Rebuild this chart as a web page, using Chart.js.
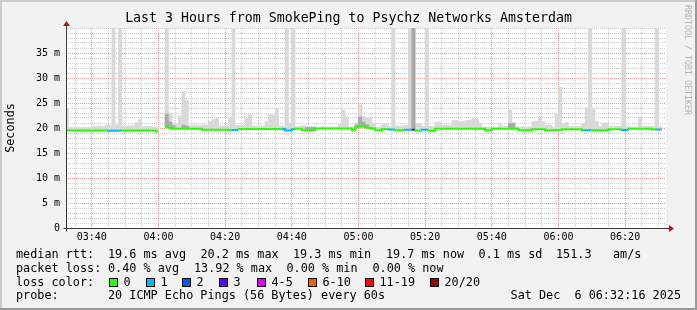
<!DOCTYPE html>
<html>
<head>
<meta charset="utf-8">
<style>
  html, body { margin: 0; padding: 0; background: #f2f2f2; }
  canvas { display: block; }
</style>
<script src="https://cdn.jsdelivr.net/npm/chart.js@4.4.1/dist/chart.umd.min.js"></script>
</head>
<body>
<canvas id="smokeChart" width="697" height="310"></canvas>
<script>
// one column per minute (20 pings each), first column starts 03:32
const firstColumn = '03:32';
const windowStart = '03:32:16';
const windowEnd = '06:32:16';
const timeLabels = ['03:40', '04:00', '04:20', '04:40', '05:00', '05:20', '05:40', '06:00', '06:20'];
const yTickLabels = ['0', '5 m', '10 m', '15 m', '20 m', '25 m', '30 m', '35 m'];
const _ = null;

// median rtt in ms
const median = [
  19.5, 19.5, 19.5, 19.5, 19.5, 19.5, 19.5, 19.5, 19.5, 19.5,
  19.5, 19.5, 19.5, 19.45, 19.45, 19.45, 19.45, 19.5, 19.5, 19.5,
  19.5, 19.5, 19.5, 19.5, 19.5, 19.5, 19.5, 19.3, _, _,
  20.2, 20.0, 19.85, 19.85, 19.85, 19.85, 19.85, 19.85, 19.85, 19.85,
  19.85, 19.65, 19.65, 19.65, 19.65, 19.65, 19.65, 19.65, 19.65, 19.6,
  19.6, 19.6, 19.8, 19.8, 19.8, 19.8, 19.8, 19.8, 19.8, 19.8,
  19.8, 19.8, 19.8, 19.8, 19.8, 19.8, 19.5, 19.5, 19.75, 19.85,
  19.85, 19.55, 19.55, 19.55, 19.55, 19.9, 19.9, 19.9, 19.9, 19.9,
  19.9, 19.9, 19.9, 19.9, 19.9, 19.9, 19.55, 20.1, 20.3, 20.3,
  20.1, 20.0, 19.9, 19.55, 19.55, 19.8, 19.8, 19.7, 19.7, 19.55,
  19.55, 19.55, 19.65, 19.65, 19.65, 19.45, 19.45, 19.65, 19.65, 19.45,
  19.45, 19.85, 19.85, 19.85, 19.85, 19.85, 19.85, 19.85, 19.85, 19.85,
  19.85, 19.85, 19.85, 19.85, 19.85, 19.85, 19.55, 19.55, 19.85, 19.85,
  19.85, 19.85, 19.85, 19.85, 19.85, 19.85, 19.55, 19.55, 19.55, 19.55,
  19.75, 19.75, 19.75, 19.75, 19.55, 19.55, 19.55, 19.55, 19.55, 19.75,
  19.75, 19.75, 19.75, 19.75, 19.75, 19.6, 19.55, 19.55, 19.55, 19.55,
  19.55, 19.55, 19.55, 19.75, 19.75, 19.75, 19.75, 19.6, 19.6, 19.85,
  19.85, 19.85, 19.85, 19.85, 19.85, 19.85, 19.7, 19.7, 19.7
];

// lost pings per column
const loss = [
  0, 0, 0, 0, 0, 0, 0, 0, 0, 0,
  0, 0, 0, 1, 1, 1, 1, 0, 0, 0,
  0, 0, 0, 0, 0, 0, 0, 0, 0, 0,
  0, 0, 0, 0, 0, 0, 0, 0, 0, 0,
  0, 0, 0, 0, 0, 0, 0, 0, 0, 0,
  1, 1, 0, 0, 0, 0, 0, 0, 0, 0,
  0, 0, 0, 0, 0, 1, 1, 1, 1, 0,
  0, 0, 0, 0, 0, 0, 0, 0, 0, 0,
  0, 0, 0, 0, 0, 0, 0, 0, 0, 0,
  0, 0, 0, 0, 0, 0, 0, 1, 1, 0,
  0, 0, 1, 1, 3, 0, 0, 1, 1, 0,
  0, 0, 0, 0, 0, 0, 0, 0, 0, 0,
  0, 0, 0, 0, 0, 0, 0, 0, 0, 0,
  0, 0, 0, 0, 0, 0, 0, 0, 0, 0,
  0, 0, 0, 0, 0, 0, 0, 0, 0, 0,
  0, 0, 0, 0, 0, 0, 1, 1, 0, 0,
  0, 0, 0, 0, 0, 0, 0, 1, 1, 0,
  0, 0, 0, 0, 0, 0, 0, 1, 1
];

// slowest ping of each column (outer smoke), ms
const smokeMax = [
  24.0, 20.1, 20.1, 20.1, 20.1, 20.1, 20.1, 20.1, 20.3, 20.3,
  20.3, 20.3, 20.5, 20.5, 45, 20.6, 45, 20.4, 20.4, 20.4,
  20.5, 21.1, 21.7, 20.3, 20.3, 20.3, 20.3, 20.1, _, _,
  45, 23.0, 21.0, 20.8, 22.4, 27.3, 25.5, 20.5, 20.5, 20.5,
  20.5, 20.6, 20.6, 21.3, 21.7, 21.9, 20.4, 20.4, 20.4, 22.1,
  45, 20.5, 20.5, 20.5, 21.9, 22.7, 20.4, 20.4, 20.4, 20.4,
  21.3, 22.7, 22.6, 23.8, 20.4, 20.4, 45, 21.0, 45, 20.3,
  20.3, 20.5, 20.3, 20.3, 20.3, 20.2, 20.2, 20.2, 20.2, 20.2,
  20.2, 20.2, 20.8, 23.6, 22.3, 20.2, 20.2, 21.0, 24.6, 22.3,
  22.1, 21.9, 20.8, 20.2, 20.2, 20.8, 20.8, 20.3, 45, 20.4,
  20.4, 20.4, 20.5, 45, 45, 20.8, 20.8, 20.3, 45, 20.3,
  20.3, 21.2, 21.2, 20.6, 20.6, 20.6, 21.5, 21.5, 21.3, 21.3,
  21.5, 21.5, 21.9, 21.9, 21.0, 20.2, 20.2, 20.2, 20.2, 20.2,
  20.7, 20.3, 20.3, 23.6, 21.1, 20.2, 20.2, 20.2, 20.2, 20.2,
  21.3, 21.4, 22.4, 21.3, 20.6, 20.6, 20.2, 22.8, 28.2, 20.8,
  21.1, 20.3, 20.3, 20.3, 20.3, 21.0, 24.1, 45, 23.7, 21.3,
  20.3, 21.0, 21.0, 20.3, 20.3, 20.3, 20.3, 45, 20.2, 20.2,
  20.2, 20.2, 22.2, 20.3, 20.3, 20.3, 20.3, 45, 20.3
];

// denser inner smoke where most pings were slow, ms
const smokeInner = [
  _, _, _, _, _, _, _, _, _, _,
  _, _, _, _, _, _, _, _, _, _,
  _, _, _, _, _, _, _, _, _, _,
  22.8, 21.2, 20.5, _, _, 20.6, 20.4, _, _, _,
  _, _, _, _, _, _, _, _, _, _,
  _, _, _, _, _, _, _, _, _, _,
  _, _, _, _, _, _, _, _, _, _,
  _, _, 20.1, 20.1, 20.1, _, _, _, _, _,
  _, _, _, _, _, _, _, 20.6, 22.2, 21.2,
  20.7, _, _, _, _, _, _, _, _, _,
  _, _, _, _, 45, _, _, _, _, _,
  _, _, _, _, _, _, _, _, _, _,
  _, _, _, _, _, _, _, _, _, _,
  _, _, _, 20.9, 20.9, _, _, _, _, _,
  _, _, _, _, _, _, _, _, _, _,
  _, _, _, _, _, _, _, _, _, _,
  _, _, _, _, _, _, _, _, _, _,
  _, _, _, _, _, _, _, _, _
];

const lossBuckets = ['0', '1', '2', '3', '4-5', '6-10', '11-19', '20/20'];
const lossColors = ['#26ff00', '#00b8ff', '#0059ff', '#5e00ff', '#dd00ff', '#ff5e00', '#ff0000', '#a00000'];

const rttStats = ['19.6 ms avg', '20.2 ms max', '19.3 ms min', '19.7 ms now', '0.1 ms sd', '151.3', 'am/s'];
const lossStats = ['0.40 % avg', '13.92 % max', '0.00 % min', '0.00 % now'];
const probeText = '20 ICMP Echo Pings (56 Bytes) every 60s';
const stampText = 'Sat Dec  6 06:32:16 2025';
const titleText = 'Last 3 Hours from SmokePing to Psychz Networks Amsterdam';

function toMinutes(s) {
  const p = s.split(':').map(Number);
  return p[0] * 60 + p[1] + (p[2] || 0) / 60;
}
function lossBucket(n) {
  if (n <= 3) return n;
  if (n <= 5) return 4;
  if (n <= 10) return 5;
  if (n < 20) return 6;
  return 7;
}

const t0 = toMinutes(firstColumn);
const xMin = toMinutes(windowStart);
const xMax = toMinutes(windowEnd);
const majorMinutes = timeLabels.map(toMinutes);

const xTicks = [];
for (let t = Math.ceil(xMin / 5) * 5; t <= xMax; t += 5) xTicks.push(t);
const yTicks = [];
for (let v = 0; v <= 40; v++) yTicks.push(v);

const medianPoints = [];
const outerSmoke = [];
const innerSmoke = [];
median.forEach((v, i) => {
  const t = t0 + i;
  medianPoints.push({ x: t, y: v, loss: loss[i] }, { x: t + 1, y: v, loss: loss[i] });
  if (v === null) return;
  outerSmoke.push({ x: t + 0.5, y: [v, smokeMax[i]] });
  if (smokeInner[i] !== null) innerSmoke.push({ x: t + 0.5, y: [v, smokeInner[i]] });
});

const MONO = 'DejaVu Sans Mono';
const GRID = 'rgba(140,140,140,0.45)';
const MGRID = 'rgba(230,60,60,0.5)';

const rrdFrame = {
  id: 'rrdFrame',
  beforeDraw(chart) {
    const { ctx, width, height, chartArea: a } = chart;
    ctx.save();
    ctx.fillStyle = '#f2f2f2';
    ctx.fillRect(0, 0, width, height);
    ctx.fillStyle = '#cbcbcb';
    ctx.fillRect(0, 0, width, 2);
    ctx.fillRect(0, 0, 2, height);
    ctx.fillStyle = '#999999';
    ctx.fillRect(0, height - 2, width, 2);
    ctx.fillRect(width - 2, 0, 2, height);
    ctx.fillStyle = '#ffffff';
    ctx.fillRect(a.left, a.top, a.right - a.left, a.bottom - a.top);
    ctx.restore();
  },
  afterDraw(chart) {
    const { ctx, width, chartArea: a } = chart;
    ctx.save();
    // axes with arrows
    const ax = a.left + 0.5, ay = a.bottom + 0.5;
    ctx.strokeStyle = '#3a3a3a';
    ctx.lineWidth = 1;
    ctx.beginPath();
    ctx.moveTo(ax, ay + 3); ctx.lineTo(ax, a.top - 2);
    ctx.moveTo(ax - 3, ay); ctx.lineTo(a.right + 3, ay);
    ctx.stroke();
    ctx.fillStyle = '#a51c1c';
    ctx.beginPath();
    ctx.moveTo(ax, a.top - 7); ctx.lineTo(ax - 3.5, a.top - 2); ctx.lineTo(ax + 3.5, a.top - 2);
    ctx.closePath(); ctx.fill();
    ctx.beginPath();
    ctx.moveTo(a.right + 8, ay); ctx.lineTo(a.right + 3, ay - 3.5); ctx.lineTo(a.right + 3, ay + 3.5);
    ctx.closePath(); ctx.fill();

    // title
    ctx.fillStyle = '#000';
    ctx.textBaseline = 'middle';
    ctx.textAlign = 'center';
    ctx.font = '13.25px "' + MONO + '"';
    ctx.fillText(titleText, width / 2, 19);

    // y axis title
    ctx.font = '11.8px "' + MONO + '"';
    ctx.save();
    ctx.translate(11, (a.top + a.bottom) / 2);
    ctx.rotate(-Math.PI / 2);
    ctx.fillText('Seconds', 0, 0);
    ctx.restore();

    // watermark
    ctx.save();
    ctx.fillStyle = '#b4b4b4';
    ctx.font = '8.3px "' + MONO + '"';
    ctx.textAlign = 'left';
    ctx.translate(687.5, 5);
    ctx.rotate(Math.PI / 2);
    ctx.fillText('RRDTOOL / TOBI OETIKER', 0, 0);
    ctx.restore();

    // legend block
    ctx.font = '11.8px "' + MONO + '"';
    ctx.textAlign = 'left';
    const rows = [255, 268.5, 282.5, 296];
    const statCols = [108, 200.5, 293, 386, 478.5, 556, 613];
    ctx.fillText('median rtt:', 16, rows[0]);
    rttStats.forEach((s, i) => ctx.fillText(s, statCols[i], rows[0]));
    ctx.fillText('packet loss:', 16, rows[1]);
    const lossCols = [108, 194, 286.5, 372.5];
    lossStats.forEach((s, i) => ctx.fillText(s, lossCols[i], rows[1]));
    ctx.fillText('loss color:', 16, rows[2]);
    const boxCols = [109, 146, 182, 219, 257, 308, 365, 430];
    lossBuckets.forEach((b, i) => {
      const bx = boxCols[i];
      ctx.fillStyle = lossColors[i];
      ctx.fillRect(bx, rows[2] - 4.5, 9, 9);
      ctx.strokeStyle = '#000';
      ctx.strokeRect(bx + 0.5, rows[2] - 4, 8, 8);
      ctx.fillStyle = '#000';
      ctx.fillText(b, bx + 14.5, rows[2]);
    });
    ctx.fillText('probe:', 16, rows[3]);
    ctx.fillText(probeText, 108, rows[3]);
    ctx.textAlign = 'right';
    ctx.fillText(stampText, 681, rows[3]);
    ctx.restore();
  }
};

new Chart(document.getElementById('smokeChart'), {
  type: 'line',
  data: {
    datasets: [
      {
        type: 'line',
        label: 'median rtt',
        data: medianPoints,
        borderWidth: 2,
        borderColor: lossColors[0],
        borderCapStyle: 'butt',
        pointRadius: 0,
        tension: 0,
        spanGaps: false,
        segment: {
          borderColor: c => lossColors[lossBucket(medianPoints[c.p1DataIndex].loss)]
        },
        order: 0,
        clip: 0
      },
      {
        type: 'bar',
        label: 'inner smoke',
        data: innerSmoke,
        backgroundColor: '#a9a9a9',
        grouped: false,
        barPercentage: 1,
        categoryPercentage: 1,
        order: 1,
        clip: 0
      },
      {
        type: 'bar',
        label: 'smoke',
        data: outerSmoke,
        backgroundColor: '#d9d9d9',
        grouped: false,
        barPercentage: 1,
        categoryPercentage: 1,
        order: 2,
        clip: 0
      }
    ]
  },
  options: {
    responsive: false,
    animation: false,
    devicePixelRatio: 1,
    events: [],
    layout: { padding: { top: 28, right: 31, left: 0, bottom: 0 } },
    plugins: { legend: { display: false }, tooltip: { enabled: false } },
    scales: {
      x: {
        type: 'linear',
        min: xMin,
        max: xMax,
        offset: false,
        afterBuildTicks: s => { s.ticks = xTicks.map(v => ({ value: v })); },
        afterFit: s => { s.height = 82; },
        ticks: {
          autoSkip: false,
          maxRotation: 0,
          padding: 3,
          color: '#000',
          font: { family: MONO, size: 10 },
          callback: v => {
            const k = majorMinutes.indexOf(v);
            return k >= 0 ? timeLabels[k] : '';
          }
        },
        grid: {
          offset: false,
          drawTicks: false,
          lineWidth: 1,
          color: c => majorMinutes.includes(c.tick.value) ? MGRID : GRID
        },
        border: { display: false, dash: [1, 1] }
      },
      y: {
        type: 'linear',
        min: 0,
        max: 40,
        afterBuildTicks: s => { s.ticks = yTicks.map(v => ({ value: v })); },
        afterFit: s => { s.width = 66; },
        ticks: {
          autoSkip: false,
          padding: 6,
          color: '#000',
          font: { family: MONO, size: 10 },
          callback: v => (v % 5 === 0 && v / 5 < yTickLabels.length) ? yTickLabels[v / 5] : ''
        },
        grid: {
          drawTicks: false,
          lineWidth: 1,
          color: c => (c.tick.value % 5 === 0 && c.tick.value > 0 && c.tick.value < 40) ? MGRID : GRID
        },
        border: { display: false, dash: [1, 1] }
      }
    }
  },
  plugins: [rrdFrame]
});
</script>
</body>
</html>
